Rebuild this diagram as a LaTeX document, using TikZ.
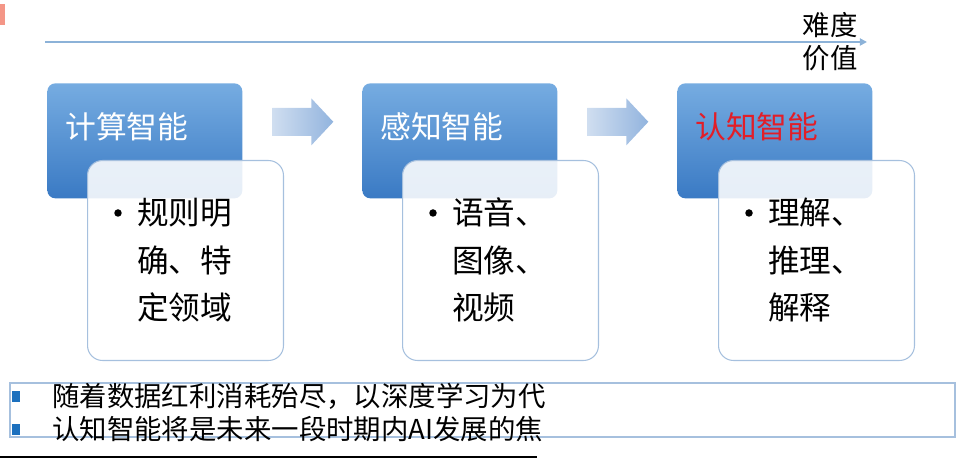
\documentclass[tikz,border=0pt]{standalone}
\usepackage{fontspec}
\setmainfont{Noto Sans CJK SC}
\usepackage{tikz}
\usetikzlibrary{arrows.meta, positioning, calc}
\definecolor{boxtop}{RGB}{118,172,225}
\definecolor{boxbot}{RGB}{58,122,196}
\definecolor{edgeblue}{RGB}{166,192,222}
\definecolor{axisblue}{RGB}{140,178,216}
\definecolor{arrlight}{RGB}{208,222,240}
\definecolor{arrdark}{RGB}{146,180,222}
\definecolor{cogred}{RGB}{226,30,40}
\definecolor{sqblue}{RGB}{28,112,190}
\definecolor{markred}{RGB}{244,150,135}

\begin{document}
\begin{tikzpicture}[x=0.02cm, y=-0.02cm,
  head/.style={top color=boxtop, bottom color=boxbot, rounded corners=4.5pt,
    minimum width=3.9cm, minimum height=2.3cm, anchor=north west, inner sep=0pt},
  card/.style={draw=edgeblue, fill=white, fill opacity=0.88, rounded corners=8.5pt,
    line width=0.6pt, minimum width=3.92cm, minimum height=4cm,
    anchor=north west, inner sep=0pt},
  title/.style={font=\fontsize{17.5}{20}\selectfont, anchor=west, inner sep=0pt},
  items/.style={font=\fontsize{18}{27.2}\selectfont, align=left,
    anchor=base west, inner sep=0pt},
  dot/.style={circle, fill=black, minimum size=0.15cm, inner sep=0pt},
  flow/.style={left color=arrlight, right color=arrdark},
  axis/.style={axisblue, line width=1.1pt, -{Triangle[length=4pt, width=4pt]}},
  axlab/.style={font=\fontsize{15.6}{18.7}\selectfont, align=center, inner sep=0pt},
  sq/.style={fill=sqblue, minimum width=0.18cm, minimum height=0.22cm, inner sep=0pt},
  note/.style={font=\fontsize{15.6}{18}\selectfont, anchor=base west, inner sep=0pt}
]
\useasboundingbox (0,0) rectangle (965,459);
% Edge marks
\fill[markred] (0,4) rectangle (5,25);
\draw[black, line width=1.2pt] (0,457) -- (537,457);
% Axis
\coordinate (ax0) at (45,42);
\coordinate (ax1) at (867,42);
\draw[axis] (ax0) -- (ax1);
\node[axlab] (V) at (830,42) {难度\\价值};
% Head boxes
\node[head] (B1) at (47,83) {};
\node[head] (B2) at (362,83) {};
\node[head] (B3) at (677,83) {};
\node[title, text=white] (T1) at (65,127) {计算智能};
\node[title, text=white] (T2) at (380,127) {感知智能};
\node[title, text=cogred] (T3) at (695,127) {认知智能};
% Block arrows
\coordinate (A1) at ($(B1.east)!0.5!(B2.west)+(0,-19)$);
\coordinate (A2) at ($(B2.east)!0.5!(B3.west)+(0,-19)$);
\foreach \a in {A1,A2}
  \shade[flow] ($(\a)+(-30,-14)$) -- ($(\a)+(9,-14)$) -- ($(\a)+(9,-23.5)$)
    -- ($(\a)+(31,0)$) -- ($(\a)+(9,23.5)$) -- ($(\a)+(9,14)$)
    -- ($(\a)+(-30,14)$) -- cycle;
% Cards
\node[card] (W1) at (87,160) {};
\node[card] (W2) at (402,160) {};
\node[card] (W3) at (718,160) {};
\node[dot] (D1) at (118,213) {};
\node[dot] (D2) at (433,213) {};
\node[dot] (D3) at (749,213) {};
\node[items] (I1) at (137,320) {规则明\\确、特\\定领域};
\node[items] (I2) at (452,320) {语音、\\图像、\\视频};
\node[items] (I3) at (768,320) {理解、\\推理、\\解释};
% Notes
\draw[edgeblue, line width=0.6pt] (10,383) rectangle (955,437);
\node[sq] (S1) at (16,397) {};
\node[sq] (S2) at (16,430) {};
\node[note] (L1) at (52,407) {随着数据红利消耗殆尽，以深度学习为代};
\node[note] (L2) at (52,440) {认知智能将是未来一段时期内AI发展的焦};
\end{tikzpicture}
\end{document}
